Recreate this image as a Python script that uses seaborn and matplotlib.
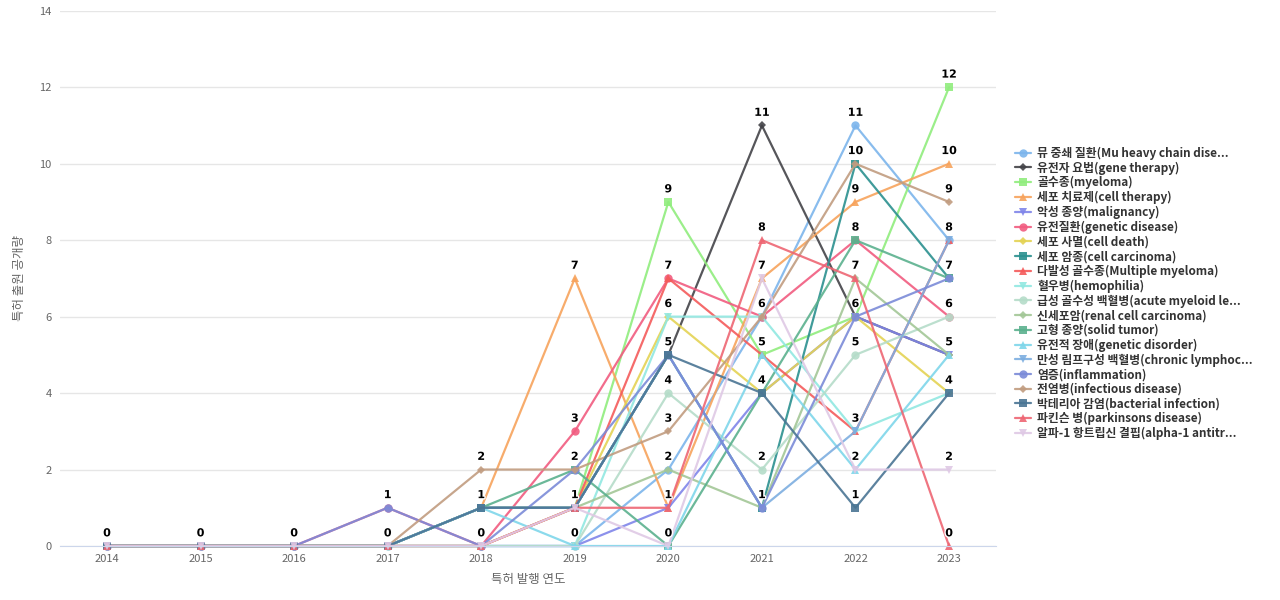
import matplotlib
matplotlib.use("Agg")
import matplotlib.pyplot as plt
import matplotlib.patheffects as pe
import pandas as pd
import seaborn as sns

years = [2014, 2015, 2016, 2017, 2018, 2019, 2020, 2021, 2022, 2023]

series_names = [
    "뮤 중쇄 질환(Mu heavy chain dise...",
    "유전자 요법(gene therapy)",
    "골수종(myeloma)",
    "세포 치료제(cell therapy)",
    "악성 종양(malignancy)",
    "유전질환(genetic disease)",
    "세포 사멸(cell death)",
    "세포 암종(cell carcinoma)",
    "다발성 골수종(Multiple myeloma)",
    "혈우병(hemophilia)",
    "급성 골수성 백혈병(acute myeloid le...",
    "신세포암(renal cell carcinoma)",
    "고형 종양(solid tumor)",
    "유전적 장애(genetic disorder)",
    "만성 림프구성 백혈병(chronic lymphoc...",
    "염증(inflammation)",
    "전염병(infectious disease)",
    "박테리아 감염(bacterial infection)",
    "파킨슨 병(parkinsons disease)",
    "알파-1 항트립신 결핍(alpha-1 antitr...",
]

mu_heavy_chain = [0, 0, 0, 0, 0, 0, 2, 6, 11, 8]
gene_therapy = [0, 0, 0, 0, 1, 1, 5, 11, 6, 5]
myeloma = [0, 0, 0, 0, 0, 1, 9, 5, 6, 12]
cell_therapy = [0, 0, 0, 0, 1, 7, 1, 7, 9, 10]
malignancy = [0, 0, 0, 0, 0, 0, 1, 4, 6, 5]
genetic_disease = [0, 0, 0, 1, 0, 3, 7, 6, 8, 6]
cell_death = [0, 0, 0, 0, 0, 1, 6, 4, 6, 4]
cell_carcinoma = [0, 0, 0, 0, 1, 1, 5, 1, 10, 7]
multiple_myeloma = [0, 0, 0, 0, 0, 1, 7, 5, 3, 8]
hemophilia = [0, 0, 0, 0, 0, 0, 6, 6, 3, 4]
aml = [0, 0, 0, 0, 0, 0, 4, 2, 5, 6]
renal_cell = [0, 0, 0, 0, 1, 1, 2, 1, 7, 5]
solid_tumor = [0, 0, 0, 0, 1, 2, 0, 4, 8, 7]
genetic_disorder = [0, 0, 0, 0, 1, 0, 0, 5, 2, 5]
cll = [0, 0, 0, 0, 1, 1, 5, 1, 3, 8]
inflammation = [0, 0, 0, 1, 0, 2, 5, 1, 6, 7]
infectious = [0, 0, 0, 0, 2, 2, 3, 6, 10, 9]
bacterial = [0, 0, 0, 0, 1, 1, 5, 4, 1, 4]
parkinsons = [0, 0, 0, 0, 0, 1, 1, 8, 7, 0]
alpha1 = [0, 0, 0, 0, 0, 1, 0, 7, 2, 2]

all_values = [mu_heavy_chain, gene_therapy, myeloma, cell_therapy, malignancy,
              genetic_disease, cell_death, cell_carcinoma, multiple_myeloma, hemophilia,
              aml, renal_cell, solid_tumor, genetic_disorder, cll,
              inflammation, infectious, bacterial, parkinsons, alpha1]

colors = ["#7cb5ec", "#434348", "#90ed7d", "#f7a35c", "#8085e9",
          "#f15c80", "#e4d354", "#2b908f", "#f45b5b", "#91e8e1",
          "#b5dcc9", "#a3c797", "#5bb18e", "#7fd6ea", "#7daee0",
          "#7b8bd8", "#c19c80", "#4a7594", "#ee6673", "#dfc9e5"]
marker_cycle = ["o", "D", "s", "^", "v"]

rows = []
for name, vals in zip(series_names, all_values):
    for yr, v in zip(years, vals):
        rows.append({"series": name, "year": yr, "count": v})
df = pd.DataFrame(rows)

sns.set_style("white")
plt.rcParams["font.family"] = ["Noto Sans CJK KR", "DejaVu Sans"]

fig = plt.figure(figsize=(12.8, 6), dpi=100)
ax = fig.add_axes([0.047, 0.09, 0.731, 0.892])

markers = {n: marker_cycle[i % 5] for i, n in enumerate(series_names)}
sns.lineplot(data=df, x="year", y="count", hue="series", style="series",
             hue_order=series_names, style_order=series_names,
             palette=colors, markers=markers, dashes=False,
             linewidth=1.6, markersize=6, markeredgewidth=0,
             alpha=0.9, ax=ax, clip_on=False)

# diamonds are drawn smaller
for ln in ax.get_lines():
    if ln.get_marker() == "D":
        ln.set_markersize(4.2)

# value labels, one per occupied point
seen = set()
for vals in all_values:
    for yr, v in zip(years, vals):
        if (yr, v) in seen:
            continue
        seen.add((yr, v))
        ax.annotate(str(v), (yr, v), xytext=(0, 5.5), textcoords="offset points",
                    ha="center", va="bottom", fontsize=8, fontweight="bold",
                    color="black", family="DejaVu Sans",
                    path_effects=[pe.withStroke(linewidth=2, foreground="white")])

ax.set_xlim(2013.5, 2023.5)
ax.set_ylim(0, 14)
ax.set_xticks(years)
ax.set_xticklabels([str(y) for y in years])
ax.set_yticks(range(0, 15, 2))
ax.tick_params(axis="both", length=0, labelsize=8, colors="#666666", pad=6)
ax.yaxis.grid(True, color="#e6e6e6", linewidth=1)
ax.xaxis.grid(False)
for s in ["top", "right", "left"]:
    ax.spines[s].set_visible(False)
ax.spines["bottom"].set_color("#ccd6eb")
ax.set_xlabel("특허 발행 연도", fontsize=9, color="#666666", labelpad=6)
ax.set_ylabel("특허 출원 공개량", fontsize=9, color="#666666", labelpad=10)

handles, labels = ax.get_legend_handles_labels()
for h in handles:
    if h.get_marker() == "D":
        h.set_markersize(4.2)
ax.legend(handles, labels, loc="upper left", bbox_to_anchor=(1.015, 0.755),
          frameon=False, labelspacing=0.14, handlelength=1.4,
          handletextpad=0.5, borderaxespad=0,
          prop={"weight": "bold", "size": 8.5})
for t in ax.get_legend().get_texts():
    t.set_color("#333333")

fig.savefig("out.png", dpi=100)
